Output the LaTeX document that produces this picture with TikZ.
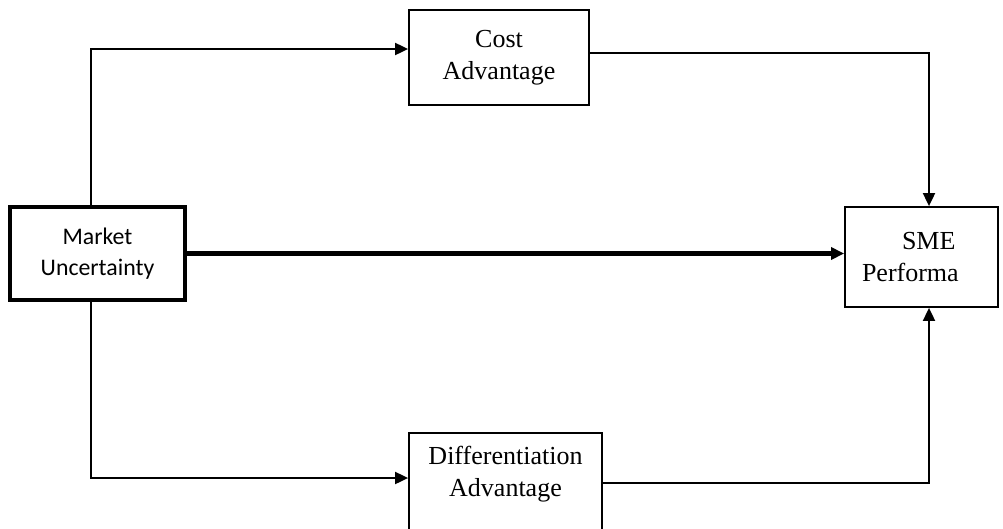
\documentclass[tikz,border=0pt]{standalone}
\usepackage{fontspec}
\setmainfont{Liberation Serif}
\newfontfamily\calibrifont{Carlito}
\usetikzlibrary{arrows.meta}

\begin{document}
\begin{tikzpicture}[x=1pt, y=-1pt,
		box/.style={draw, line width=1.8pt, align=center, inner sep=0pt,
			font=\fontsize{26}{32.5}\selectfont},
		link/.style={line width=1.9pt, -{Triangle[length=13pt,width=12pt]}}]
		\useasboundingbox (0,0) rectangle (1003,528);
		\node[box, line width=3.2pt, minimum width=175, minimum height=93,
			font=\calibrifont\fontsize{23.8}{31}\selectfont] (mkt) at (97.5,253.5) {Market\\Uncertainty};
		\node[box, minimum width=180, minimum height=95] (cost) at (499,57.5) {Cost\\Advantage};
		\node[box, align=left, text width=119, inner xsep=17, minimum height=100] (sme) at (921.5,257)
			{\hspace{40pt}SME\\Performa};
		\node[box, anchor=north, minimum width=193, inner ysep=13] (diff) at (505.5,432)
			{Differentiation\\Advantage\\[40pt]\mbox{}};
		\draw[link] ([xshift=-6.5]mkt.north) |- ([yshift=8.5]cost.west);
		\draw[link] ([xshift=-6.5]mkt.south) |- ([yshift=-46]diff.north west);
		\draw[link] ([yshift=4.5]cost.east) -| ([xshift=7.5]sme.north);
		\draw[link] ([yshift=-51]diff.north east) -| ([xshift=7.5]sme.south);
		\draw[line width=5.5pt, -{Triangle[length=13pt,width=12pt]}] (mkt.east) -- (mkt.east -| sme.west);
	\end{tikzpicture}
\end{document}
